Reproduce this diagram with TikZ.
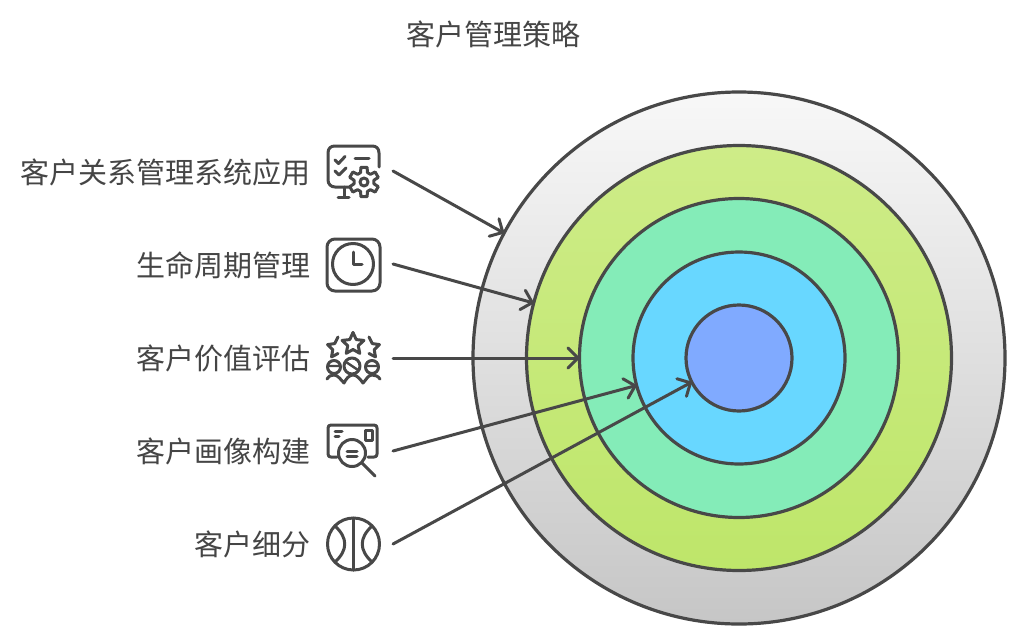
\documentclass[tikz,border=0pt]{standalone}
\usepackage{fontspec}
\setmainfont{Noto Sans CJK SC}
\usetikzlibrary{arrows.meta}
\definecolor{ink}{HTML}{484848}
\definecolor{txt}{HTML}{454545}
\definecolor{ga}{HTML}{F8F8F8}
\definecolor{gb}{HTML}{C6C6C6}
\definecolor{lima}{HTML}{CEEC88}
\definecolor{limb}{HTML}{BEE66A}
\definecolor{mint}{HTML}{84ECB8}
\definecolor{sky}{HTML}{68D7FF}
\definecolor{peri}{HTML}{80AAFF}
\tikzset{
  ring/.style={circle,draw=ink,line width=3.2pt,inner sep=0pt,outer sep=0pt,minimum size=#1},
  lbl/.style={anchor=east,inner sep=0pt,text=txt,font=\fontsize{29}{33}\selectfont},
  ttl/.style={inner sep=0pt,text=txt,font=\fontsize{29}{33}\selectfont},
  iconbox/.style={inner sep=0pt,outer sep=0pt,minimum width=78pt,minimum height=10pt},
  conn/.style={draw=ink,line width=3pt,line cap=round,-{Straight Barb[round,length=10pt,width=20pt,line width=3pt]}},
  ic/.style={draw=ink,line width=3pt,line cap=round,line join=round},
  ict/.style={draw=ink,line width=2.4pt,line cap=round,line join=round},
}
% cx cy R r dir first last
\newcommand{\icstar}[7]{%
  \pgfmathsetmacro{\sa}{-90+#5*36*#6}
  \draw[ic] ({#1+#3*cos(\sa)},{#2+#3*sin(\sa)})
    \foreach \i in {1,...,#7}{
      -- ({#1+(mod(\i,2)==0?#3:#4)*cos(\sa+#5*36*\i)},{#2+(mod(\i,2)==0?#3:#4)*sin(\sa+#5*36*\i)})};
}
\begin{document}
\begin{tikzpicture}[x=1pt,y=-1pt]
\useasboundingbox[fill=white] (0,0) rectangle (1024,643);
% rings
\node[ring=532pt,top color=ga,bottom color=gb] (r1) at (739,358) {};
\node[ring=425pt,top color=lima,bottom color=limb] (r2) at (739,358) {};
\node[ring=319pt,fill=mint] (r3) at (739,358) {};
\node[ring=212pt,fill=sky] (r4) at (739,358) {};
\node[ring=106pt,fill=peri] (r5) at (739,358) {};
% title and labels
\node[ttl] (title) at (493.5,34.5) {客户管理策略};
\node[lbl] (l1) at (311,172.5) {客户关系管理系统应用};
\node[lbl] (l2) at (311,265.5) {生命周期管理};
\node[lbl] (l3) at (311,358.5) {客户价值评估};
\node[lbl] (l4) at (311,451.5) {客户画像构建};
\node[lbl] (l5) at (311,544.5) {客户细分};
% connector anchors
\node[iconbox] (i1) at (354,171) {};
\node[iconbox] (i2) at (354,264) {};
\node[iconbox] (i3) at (354,358) {};
\node[iconbox] (i4) at (354,451) {};
\node[iconbox] (i5) at (354,544) {};
\draw[conn] (i1.east) -- (r1.152);
\draw[conn] (i2.east) -- (r2.165.6);
\draw[conn] (i3.east) -- (r3.180);
\draw[conn] (i4.east) -- (r4.195);
\draw[conn] (i5.east) -- (r5.207);
% icon 1: monitor with gear
\draw[ic] (379,167) -- (379,153) .. controls (379,148) and (376,146) .. (372,146) -- (335,146)
  .. controls (331,146) and (328,148) .. (328,153) -- (328,180)
  .. controls (328,184) and (331,187) .. (335,187) -- (349,187);
\draw[ic] (344,187) -- (344,197) (338,197) -- (349,197);
\draw[ic] (335,160) -- (338.5,163.5) -- (345,156.5);
\draw[ic] (335,171) -- (339,175) -- (346,168);
\draw[ic] (355,158) -- (369,158);
\draw[ic] ({364+15*cos(-102)},{182+15*sin(-102)})
  \foreach \a in {-90,-30,...,210}{
    -- ({364+15*cos(\a+12)},{182+15*sin(\a+12)})
    -- ({364+10*cos(\a+20)},{182+10*sin(\a+20)})
    -- ({364+10*cos(\a+40)},{182+10*sin(\a+40)})
    -- ({364+15*cos(\a+48)},{182+15*sin(\a+48)})
  } -- cycle;
\draw[ic] (364,182) circle[radius=4];
% icon 2: clock
\draw[ic,rounded corners=8pt] (327,239) rectangle (380,291);
\draw[ic] (353,264) circle[radius=20.5];
\draw[ic] (353,252) -- (353,264) -- (362,264);
% icon 3: stars and people
\icstar{353}{344}{11.5}{5.5}{1}{0}{9}
\draw[ic] ({353+5.5*cos(-126)},{344+5.5*sin(-126)}) -- ({353+11.5*cos(-90)},{344+11.5*sin(-90)});
\icstar{338}{348}{11}{5.5}{-1}{0}{5}
\icstar{369}{348}{11}{5.5}{1}{0}{5}
\draw[ic] (334,367) circle[radius=6.5] (352,366) circle[radius=8] (372,367) circle[radius=6.5];
\draw[ict] (328,366) -- (340,366) (346,362) -- (358,370) (366,366) -- (378,366);
\draw[ic] (327,379) .. controls (329,376) and (331,375) .. (334,375) .. controls (338,375) and (341,380) .. (344,383)
  .. controls (346,379) and (349,375) .. (353,375) .. controls (357,375) and (360,379) .. (363,383)
  .. controls (366,380) and (368,375) .. (372,375) .. controls (375,375) and (378,376) .. (380,379);
% icon 4: card with magnifier
\draw[ic] (337,457) -- (331,457) .. controls (329,457) and (328,456) .. (328,454) -- (328,428)
  .. controls (328,426) and (329,425) .. (331,425) -- (374,425)
  .. controls (376,425) and (377,426) .. (377,428) -- (377,454)
  .. controls (377,456) and (376,457) .. (374,457) -- (368,457);
\draw[ic] (335,431) -- (342,431) (335,436) -- (339,436);
\draw[ic] (365,430) rectangle (372,440);
\draw[ic] (352,453) circle[radius=13.5];
\draw[ic] (347,451) -- (357,451) (347,456) -- (357,456);
\draw[ic] (362,463) -- (375,476);
% icon 5: ball
\draw[ic] (353.5,544) circle[radius=26];
\draw[ic] (353.5,518) -- (353.5,570);
\draw[ic] (335,526) .. controls (348,538) and (348,550) .. (335,562);
\draw[ic] (372,526) .. controls (359,538) and (359,550) .. (372,562);
\end{tikzpicture}
\end{document}
